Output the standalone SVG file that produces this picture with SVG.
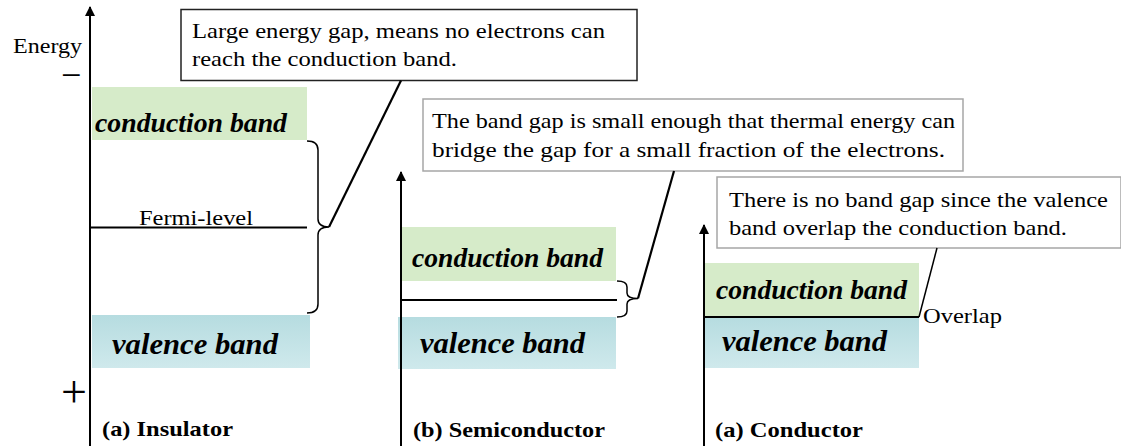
<svg xmlns="http://www.w3.org/2000/svg" width="1121" height="446" viewBox="0 0 1121 446" font-family="'Liberation Serif', 'Times New Roman', Times, serif">
<defs>
<linearGradient id="val" x1="0" y1="0" x2="0" y2="1">
<stop offset="0" stop-color="#b6dce0"/>
<stop offset="1" stop-color="#cfe9ec"/>
</linearGradient>
<marker id="arr" viewBox="0 0 10 10" refX="9" refY="5" markerWidth="10" markerHeight="10" markerUnits="userSpaceOnUse" orient="auto">
<path d="M0,0 L10,5 L0,10 Z" fill="#000"/>
</marker>
</defs>
<style>
text{font-family:'Liberation Serif','Times New Roman',Times,serif;fill:#000}
.band{font-weight:bold;font-style:italic}
.cb{font-size:27px}
.vb{font-size:29px}
.lbl{font-weight:bold;font-size:22px}
.note{font-size:21.5px}
.green{fill:#d6ebc9}
.teal{fill:url(#val)}
.axis{stroke:#000;stroke-width:2;fill:none}
.lvl{stroke:#000;stroke-width:2.2;fill:none}
.thin{stroke:#000;stroke-width:1.5;fill:none}
.box1{fill:#fff;stroke:#222;stroke-width:1.5}
.box2{fill:#fff;stroke:#a6a6a6;stroke-width:1.5}
</style>

<g id="insulator">
<rect class="green" x="92" y="87" width="215" height="53"/>
<rect class="teal" x="92" y="315" width="218" height="53"/>
<text class="band cb" x="95" y="131.5" textLength="192" lengthAdjust="spacingAndGlyphs">conduction band</text>
<text class="band vb" x="112" y="354" textLength="166" lengthAdjust="spacingAndGlyphs">valence band</text>
<line class="lvl" x1="90" y1="227.5" x2="307" y2="227.5"/>
<text class="note" x="139" y="225" textLength="114" lengthAdjust="spacingAndGlyphs">Fermi-level</text>
<text x="13" y="53" font-size="22" textLength="69" lengthAdjust="spacingAndGlyphs">Energy</text>
<text x="61" y="87" font-size="36">−</text>
<text x="61" y="407" font-size="46">+</text>
<text class="lbl" x="102" y="436" textLength="131" lengthAdjust="spacingAndGlyphs">(a) Insulator</text>
</g>

<g id="semiconductor">
<rect class="green" x="402" y="227" width="214" height="54"/>
<rect class="teal" x="398" y="317" width="218" height="52"/>
<text class="band cb" x="412" y="267" textLength="191" lengthAdjust="spacingAndGlyphs">conduction band</text>
<text class="band vb" x="420" y="353" textLength="165" lengthAdjust="spacingAndGlyphs">valence band</text>
<line class="lvl" x1="401" y1="300" x2="617" y2="300"/>
<text class="lbl" x="413" y="436.7" textLength="192" lengthAdjust="spacingAndGlyphs">(b) Semiconductor</text>
</g>

<g id="conductor">
<rect class="green" x="704" y="263" width="215" height="54"/>
<rect class="teal" x="704" y="317" width="215" height="51"/>
<text class="band cb" x="716" y="299" textLength="191" lengthAdjust="spacingAndGlyphs">conduction band</text>
<text class="band vb" x="722" y="351" textLength="165" lengthAdjust="spacingAndGlyphs">valence band</text>
<line class="lvl" x1="704" y1="317" x2="919" y2="317"/>
<text class="note" x="923" y="323" textLength="79" lengthAdjust="spacingAndGlyphs">Overlap</text>
<text class="lbl" x="715" y="436.7" textLength="148" lengthAdjust="spacingAndGlyphs">(a) Conductor</text>
</g>

<g id="callout-insulator">
<rect class="box1" x="181" y="9.5" width="456" height="71"/>
<text class="note" x="192" y="37.7" textLength="413" lengthAdjust="spacingAndGlyphs">Large energy gap, means no electrons can</text>
<text class="note" x="192" y="65.7" textLength="265" lengthAdjust="spacingAndGlyphs">reach the conduction band.</text>
</g>

<g id="callout-semiconductor">
<rect class="box2" x="423" y="99" width="540" height="72"/>
<text class="note" x="432" y="128" textLength="523" lengthAdjust="spacingAndGlyphs">The band gap is small enough that thermal energy can</text>
<text class="note" x="432" y="156.5" textLength="513" lengthAdjust="spacingAndGlyphs">bridge the gap for a small fraction of the electrons.</text>
</g>

<g id="callout-conductor">
<rect class="box2" x="717" y="177" width="404" height="71"/>
<text class="note" x="729" y="206.7" textLength="379" lengthAdjust="spacingAndGlyphs">There is no band gap since the valence</text>
<text class="note" x="729" y="235" textLength="338" lengthAdjust="spacingAndGlyphs">band overlap the conduction band.</text>
</g>

<g id="connectors">
<line class="axis" x1="90" y1="446" x2="90" y2="7" marker-end="url(#arr)"/>
<line class="axis" x1="401" y1="446" x2="401" y2="172" marker-end="url(#arr)"/>
<line class="axis" x1="704" y1="446" x2="704" y2="225" marker-end="url(#arr)"/>
<path class="thin" d="M307,141 Q318,141 318,150 L318,219 Q318,227 329,227 Q318,227 318,235 L318,304 Q318,313 307,313"/>
<path class="thin" d="M617,281 Q627,281 627,287 L627,293 Q627,298.5 638,298.5 Q627,298.5 627,304 L627,311 Q627,317 617,317"/>
<line class="lvl" x1="401" y1="80.5" x2="329" y2="227"/>
<line class="lvl" x1="674" y1="171" x2="638" y2="298.5"/>
<line class="thin" x1="937" y1="248" x2="919" y2="317"/>
</g>
</svg>
